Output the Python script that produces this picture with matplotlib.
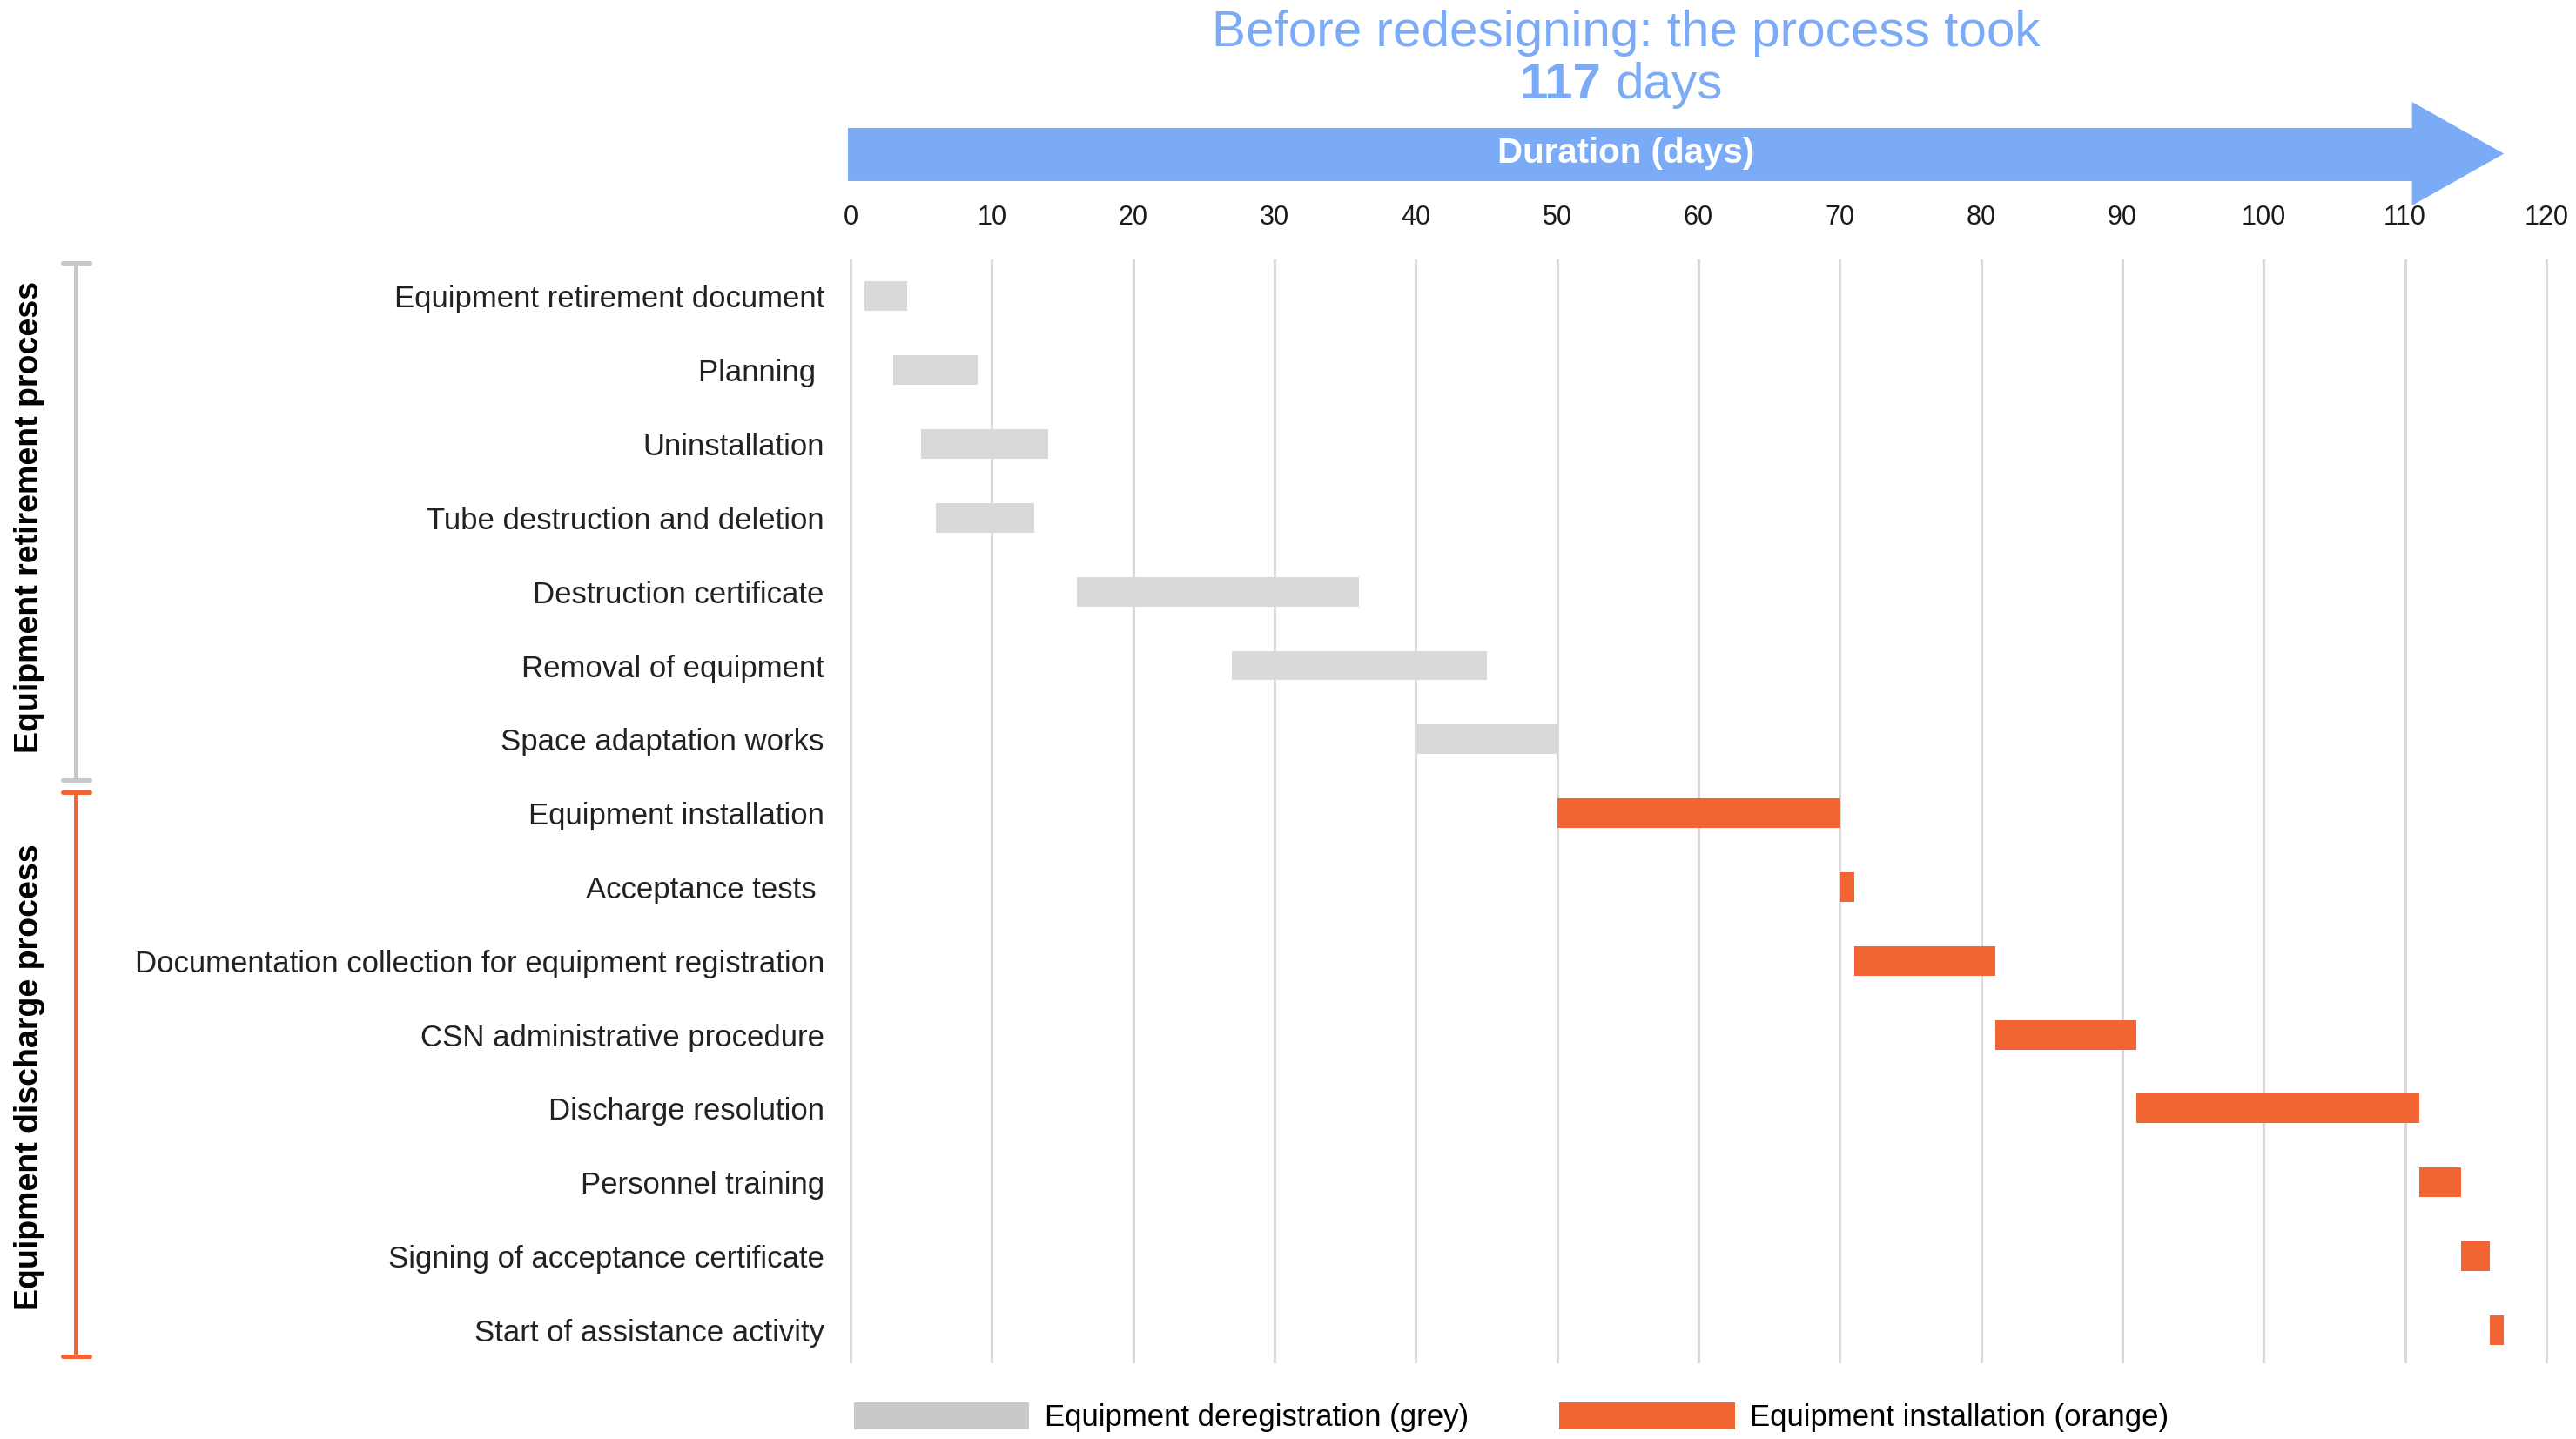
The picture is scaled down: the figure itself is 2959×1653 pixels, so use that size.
import matplotlib
matplotlib.use('Agg')
import matplotlib.pyplot as plt
import matplotlib.transforms as mtransforms
from matplotlib.patches import Polygon, Patch
from matplotlib.lines import Line2D

plt.rcParams['font.family'] = ['Liberation Sans', 'DejaVu Sans']

# data
tasks = ['Equipment retirement document', 'Planning ', 'Uninstallation',
         'Tube destruction and deletion', 'Destruction certificate',
         'Removal of equipment', 'Space adaptation works',
         'Equipment installation', 'Acceptance tests ',
         'Documentation collection for equipment registration',
         'CSN administrative procedure', 'Discharge resolution',
         'Personnel training', 'Signing of acceptance certificate',
         'Start of assistance activity']
start = [1, 3, 5, 6, 16, 27, 40, 50, 70, 71, 81, 91, 111, 114, 116]
end = [4, 9, 14, 13, 36, 45, 50, 70, 71, 81, 91, 111, 114, 116, 117]
phase = ['grey'] * 7 + ['orange'] * 8
xticks = list(range(0, 121, 10))
total_days = 117

GREY = '#D9D9D9'
ORANGE = '#F26532'
BLUE = '#7BABF7'

fig = plt.figure(figsize=(29.59, 16.53), dpi=100)
ax = fig.add_axes([0.3275, 0.0526, 0.6637, 0.7671])

colors = [GREY if p == 'grey' else ORANGE for p in phase]
widths = [e - s for s, e in zip(start, end)]
ax.barh(range(len(tasks)), widths, left=start, height=0.4, color=colors,
        zorder=3)

ax.set_xlim(-0.5, 120.5)
ax.set_ylim(14.45, -0.5)
ax.set_xticks(xticks)
ax.xaxis.tick_top()
ax.tick_params(axis='x', length=0, pad=24, labelsize=22, labelcolor='#1a1a1a')
ax.set_yticks(range(len(tasks)))
ax.set_yticklabels(tasks, fontsize=25, color='#222222')
ax.tick_params(axis='y', length=0, pad=16)
ax.grid(axis='x', color='#D9D9D9', linewidth=2.2, zorder=0)
for s in ax.spines.values():
    s.set_visible(False)

# big arrow "Duration (days)"
tr = mtransforms.blended_transform_factory(ax.transData, fig.transFigure)
arrow = Polygon([(-0.2, 0.9111), (110.5, 0.9111), (110.5, 0.9292),
                 (total_days, 0.8932), (110.5, 0.8572), (110.5, 0.8742),
                 (-0.2, 0.8742)], closed=True, facecolor=BLUE,
                edgecolor='none', transform=tr, clip_on=False)
fig.add_artist(arrow)
fig.text(1868 / 2959, 1 - 176 / 1653, 'Duration (days)', color='white',
         fontsize=29, fontweight='bold', ha='center', va='center')

# title
fig.text(1868 / 2959, 1 - 38 / 1653, 'Before redesigning: the process took',
         color=BLUE, fontsize=42, ha='center', va='center')
fig.text(1839 / 2959, 1 - 98 / 1653, str(total_days), color=BLUE,
         fontsize=42, fontweight='bold', ha='right', va='center')
fig.text(1855 / 2959, 1 - 98 / 1653, 'days', color=BLUE,
         fontsize=42, ha='left', va='center')

# phase brackets on the left
trb = mtransforms.blended_transform_factory(fig.transFigure, ax.transData)
for y0, y1, col in [(-0.45, 6.55, '#C8C8C8'), (6.71, 14.36, ORANGE)]:
    for ln in [Line2D([0.0294, 0.0294], [y0, y1]),
               Line2D([0.0243, 0.0348], [y0, y0]),
               Line2D([0.0243, 0.0348], [y1, y1])]:
        ln.set_color(col)
        ln.set_linewidth(3.6)
        ln.set_solid_capstyle('round')
        ln.set_transform(trb)
        ln.set_clip_on(False)
        fig.add_artist(ln)
fig.text(0.0115, 2.99, 'Equipment retirement process', transform=trb,
         rotation=90, fontsize=27, fontweight='bold', ha='center', va='center')
fig.text(0.0115, 10.57, 'Equipment discharge process', transform=trb,
         rotation=90, fontsize=27, fontweight='bold', ha='center', va='center')

# legend
handles = [Patch(facecolor='#C9C9C9', label='Equipment deregistration (grey)'),
           Patch(facecolor=ORANGE, label='Equipment installation (orange)')]
fig.legend(handles=handles, loc='center left',
           bbox_to_anchor=(0.3257, 0.0150), ncol=2, frameon=False,
           fontsize=25, borderpad=0, handlelength=5.8, handleheight=1.0,
           handletextpad=0.5, columnspacing=3.0)

fig.savefig('out.png', dpi=100, facecolor='white')
